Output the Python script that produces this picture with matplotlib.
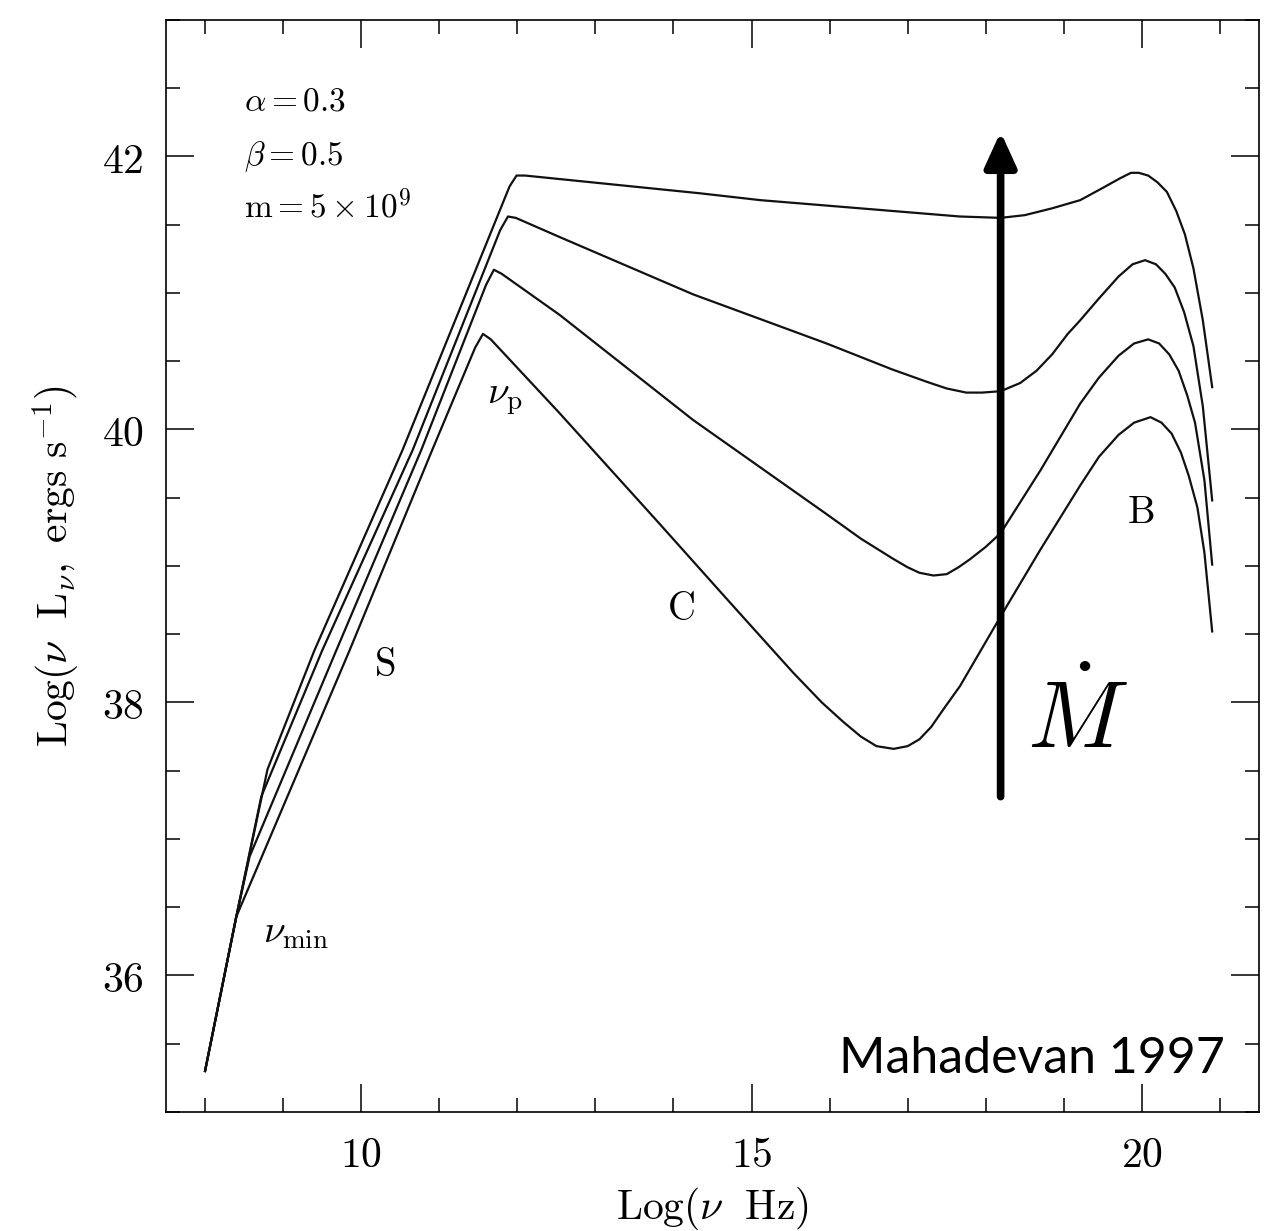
import matplotlib
matplotlib.use('Agg')
import matplotlib.pyplot as plt
from matplotlib.ticker import MultipleLocator, FormatStrFormatter

# spectra: Log(nu Hz) vs Log(nu L_nu), four accretion rates
nu_1 = [8.00, 8.40, 8.80, 9.40, 10.53, 11.90, 11.99, 12.10, 14.34, 15.11, 17.67, 18.19,
        18.50, 18.85, 19.21, 19.50, 19.72, 19.86, 19.96, 20.08, 20.20, 20.32, 20.44,
        20.55, 20.66, 20.78, 20.90]
L_1 = [35.30, 36.43, 37.51, 38.38, 39.85, 41.78, 41.86, 41.86, 41.73, 41.68, 41.56, 41.55,
       41.57, 41.62, 41.68, 41.77, 41.84, 41.88, 41.88, 41.86, 41.81, 41.74, 41.60,
       41.43, 41.18, 40.80, 40.31]

nu_2 = [8.00, 8.40, 8.72, 9.50, 10.66, 11.78, 11.88, 11.98, 12.54, 14.25, 15.96, 16.80,
        17.24, 17.50, 17.75, 17.95, 18.19, 18.44, 18.65, 18.85, 19.05, 19.21, 19.45,
        19.70, 19.88, 20.04, 20.18, 20.30, 20.42, 20.54, 20.66, 20.78, 20.90]
L_2 = [35.30, 36.43, 37.31, 38.38, 39.85, 41.46, 41.56, 41.55, 41.41, 40.99, 40.63, 40.44,
       40.35, 40.30, 40.27, 40.27, 40.28, 40.34, 40.43, 40.55, 40.70, 40.80, 40.96,
       41.12, 41.21, 41.24, 41.21, 41.14, 41.04, 40.86, 40.61, 40.17, 39.48]

nu_3 = [8.00, 8.40, 8.57, 9.68, 10.77, 11.60, 11.70, 11.80, 12.54, 14.25, 15.96, 16.40,
        16.82, 17.00, 17.15, 17.33, 17.50, 17.65, 17.80, 18.00, 18.19, 18.70, 19.21,
        19.45, 19.70, 19.90, 20.08, 20.22, 20.35, 20.47, 20.58, 20.68, 20.80, 20.90]
L_3 = [35.30, 36.43, 36.87, 38.38, 39.85, 41.06, 41.17, 41.14, 40.84, 40.07, 39.38, 39.20,
       39.05, 38.99, 38.95, 38.93, 38.94, 38.99, 39.05, 39.14, 39.24, 39.70, 40.19,
       40.38, 40.54, 40.63, 40.66, 40.63, 40.55, 40.43, 40.25, 40.05, 39.63, 39.01]

nu_4 = [8.00, 8.40, 9.85, 10.91, 11.46, 11.56, 11.66, 12.54, 13.82, 14.68, 15.53, 15.90,
        16.17, 16.40, 16.60, 16.82, 17.00, 17.15, 17.30, 17.47, 17.67, 18.19, 18.70,
        19.21, 19.45, 19.70, 19.90, 20.11, 20.25, 20.38, 20.50, 20.60, 20.71, 20.80,
        20.90]
L_4 = [35.30, 36.43, 38.38, 39.85, 40.60, 40.70, 40.66, 40.12, 39.31, 38.76, 38.22, 38.00,
       37.86, 37.75, 37.68, 37.66, 37.68, 37.73, 37.82, 37.96, 38.12, 38.63, 39.12,
       39.59, 39.80, 39.96, 40.05, 40.09, 40.05, 39.97, 39.83, 39.66, 39.43, 39.10,
       38.52]

params = [r'$\alpha=0.3$', r'$\beta=0.5$', r'$\mathrm{m}=5\times10^{9}$']

plt.rcParams['mathtext.fontset'] = 'cm'
plt.rcParams['font.family'] = ['DejaVu Serif']

fig = plt.figure(figsize=(12.76, 12.31), dpi=100)
ax = fig.add_axes([0.1301, 0.0967, 0.8566, 0.8871])

for x, y in [(nu_1, L_1), (nu_2, L_2), (nu_3, L_3), (nu_4, L_4)]:
    ax.plot(x, y, color='#111111', lw=1.6, solid_joinstyle='round')

ax.set_xlim(7.5, 21.5)
ax.set_ylim(35, 43)
ax.xaxis.set_major_locator(MultipleLocator(5))
ax.xaxis.set_minor_locator(MultipleLocator(1))
ax.yaxis.set_major_locator(MultipleLocator(2))
ax.yaxis.set_minor_locator(MultipleLocator(0.5))
ax.xaxis.set_major_formatter(FormatStrFormatter('$%d$'))
ax.yaxis.set_major_formatter(FormatStrFormatter('$%d$'))
ax.tick_params(which='both', direction='in', top=True, right=True, width=1.1,
               labelsize=30, pad=16)
ax.tick_params(which='major', length=20)
ax.tick_params(which='minor', length=10)
for s in ax.spines.values():
    s.set_linewidth(1.2)

ax.set_xlabel(r'$\mathrm{Log}(\nu\ \ \mathrm{Hz})$', fontsize=30, labelpad=6)
ax.set_ylabel(r'$\mathrm{Log}(\nu\ \ \mathrm{L}_{\nu},\ \mathrm{ergs\ s}^{-1})$',
              fontsize=30, labelpad=14)

# parameter block, top left
for txt, yb in zip(params, [42.34, 41.94, 41.55]):
    ax.text(8.50, yb, txt, fontsize=24, ha='left', va='baseline')

# component labels
ax.text(11.61, 40.19, r'$\nu_{\rm p}$', fontsize=28, ha='left', va='baseline')
ax.text(8.74, 36.24, r'$\nu_{\rm min}$', fontsize=28, ha='left', va='baseline')
ax.text(10.30, 38.27, r'$\mathrm{S}$', fontsize=28, ha='center', va='center')
ax.text(14.10, 38.68, r'$\mathrm{C}$', fontsize=28, ha='center', va='center')
ax.text(19.98, 39.39, r'$\mathrm{B}$', fontsize=28, ha='center', va='center')

# Mdot arrow
ax.annotate('', xy=(18.19, 42.18), xytext=(18.19, 37.31),
            arrowprops=dict(arrowstyle='-|>,head_length=0.7,head_width=0.32',
                            lw=5.5, color='black', mutation_scale=30,
                            shrinkA=0, shrinkB=0))
ax.text(19.17, 37.86, r'$\dot{M}$', fontsize=68, ha='center', va='center')

ax.text(0.969, 0.0357, 'Mahadevan 1997', transform=ax.transAxes, ha='right',
        va='baseline', fontsize=36, family='Lato')

fig.savefig('out.png', dpi=100)
